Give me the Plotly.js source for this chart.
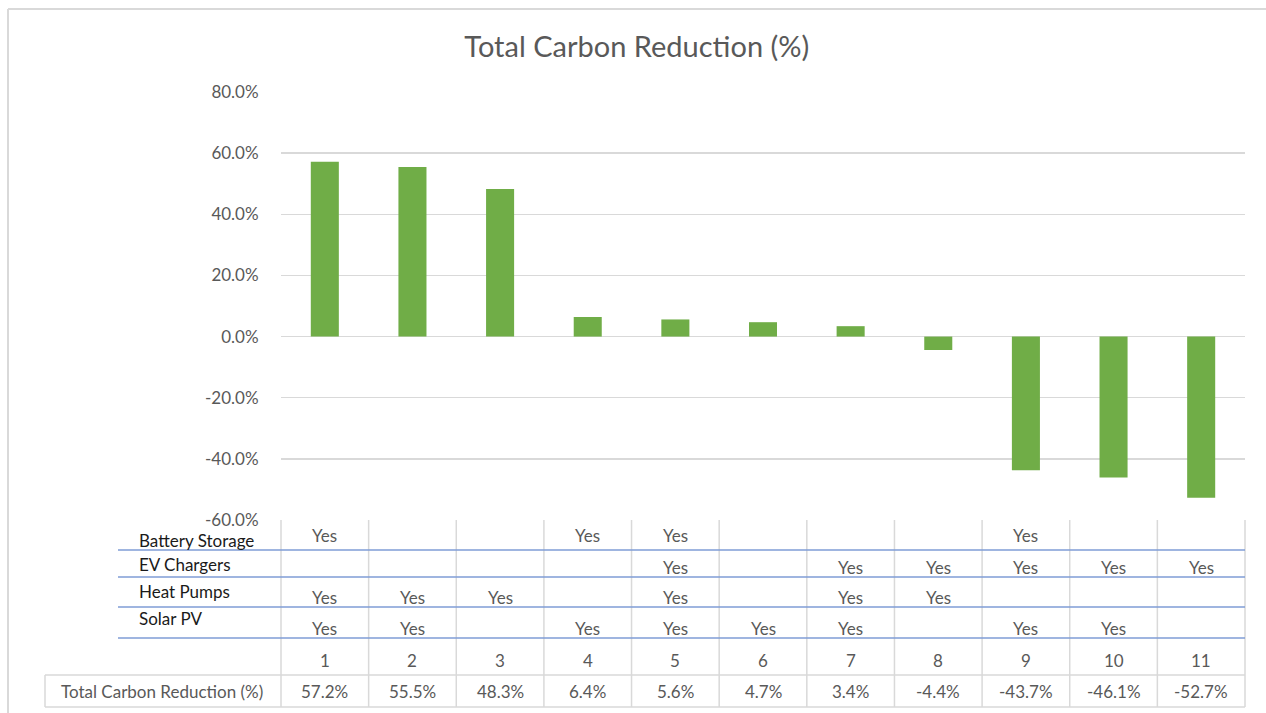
<!DOCTYPE html>
<html>
<head>
<meta charset="utf-8">
<script src="https://cdn.plot.ly/plotly-3.0.1.min.js"></script>
<style>
  html, body { margin: 0; padding: 0; background: #ffffff; }
  #chart { width: 1266px; height: 713px; }
</style>
</head>
<body>
<div id="chart"></div>
<script>
// Scenario numbers and total carbon reduction per scenario
const scenarios = ['1', '2', '3', '4', '5', '6', '7', '8', '9', '10', '11'];
const reduction = [0.572, 0.555, 0.483, 0.064, 0.056, 0.047, 0.034, -0.044, -0.437, -0.461, -0.527];

// Technologies included in each scenario
const techNames = ['Battery Storage', 'EV Chargers', 'Heat Pumps', 'Solar PV'];
const batteryStorage = ['Yes', '', '', 'Yes', 'Yes', '', '', '', 'Yes', '', ''];
const evChargers     = ['', '', '', '', 'Yes', '', 'Yes', 'Yes', 'Yes', 'Yes', 'Yes'];
const heatPumps      = ['Yes', 'Yes', 'Yes', '', 'Yes', '', 'Yes', 'Yes', '', '', ''];
const solarPV        = ['Yes', 'Yes', '', 'Yes', 'Yes', 'Yes', 'Yes', '', 'Yes', 'Yes', ''];
const seriesLabel = 'Total Carbon Reduction (%)';

// Value axis ticks
const yTicks = [-0.6, -0.4, -0.2, 0, 0.2, 0.4, 0.6, 0.8];
const pct = v => (v * 100).toFixed(1) + '%';

// ---- geometry of the data table beneath the plot (pixels) ----
const W = 1266, H = 713;
const plotL = 281, plotR = 1245, plotT = 92, plotB = 520;
const pw = plotR - plotL, ph = plotB - plotT;
const px = v => (v - plotL) / pw;      // pixel x -> paper x
const py = v => (plotB - v) / ph;      // pixel y -> paper y

const gridGrey = '#d9d9d9';
const tableBlue = '#7f9dd6';
const textGrey = '#595959';
const FONT = 'Lato, "Open Sans", sans-serif';
const FS = 17;

const shapes = [];
const annotations = [];

function hline(x0, x1, y, color, w) {
  shapes.push({type: 'line', xref: 'paper', yref: 'paper',
    x0: px(x0), x1: px(x1), y0: py(y), y1: py(y), line: {color: color, width: w}});
}
function vline(x, y0, y1, color, w) {
  shapes.push({type: 'line', xref: 'paper', yref: 'paper',
    x0: px(x), x1: px(x), y0: py(y0), y1: py(y1), line: {color: color, width: w}});
}

// outer chart frame (top and left edges)
hline(8, W + 5, 9, gridGrey, 2);
vline(8, 9, H + 5, gridGrey, 2);

// table grid
const colW = pw / scenarios.length;
for (let k = 0; k <= scenarios.length; k++) {
  vline(plotL + k * colW, plotB, 707, gridGrey, 1.5);
}
vline(45, 675, 707, gridGrey, 1.5);
hline(45, plotR, 675, gridGrey, 1.5);
hline(45, plotR, 707, gridGrey, 1.5);

// technology row separators
[550, 577, 607, 638].forEach(y => hline(118, plotR, y, tableBlue, 1.3));

// row labels
const rowLabelY = [540, 564, 591, 618];
techNames.forEach((name, i) => {
  annotations.push({xref: 'paper', yref: 'paper', x: px(137), y: py(rowLabelY[i]),
    xanchor: 'left', yanchor: 'middle', showarrow: false, text: name,
    font: {family: FONT, size: FS, color: '#1a1a1a'}});
});

// "Yes" cells (x given as category index)
const techRows = [batteryStorage, evChargers, heatPumps, solarPV];
const yesY = [535, 567, 597, 628];
techRows.forEach((row, i) => {
  row.forEach((v, j) => {
    if (!v) return;
    annotations.push({xref: 'x', yref: 'paper', x: j, y: py(yesY[i]),
      xanchor: 'center', yanchor: 'middle', showarrow: false, text: v,
      font: {family: FONT, size: FS, color: textGrey}});
  });
});

// scenario numbers and values row
scenarios.forEach((s, j) => {
  annotations.push({xref: 'x', yref: 'paper', x: j, y: py(660),
    xanchor: 'center', yanchor: 'middle', showarrow: false, text: s,
    font: {family: FONT, size: FS, color: textGrey}});
  annotations.push({xref: 'x', yref: 'paper', x: j, y: py(691),
    xanchor: 'center', yanchor: 'middle', showarrow: false,
    text: pct(reduction[j]),
    font: {family: FONT, size: FS, color: textGrey}});
});
annotations.push({xref: 'paper', yref: 'paper', x: px(162), y: py(691),
  xanchor: 'center', yanchor: 'middle', showarrow: false, text: seriesLabel,
  font: {family: FONT, size: FS, color: textGrey}});

const data = [{
  type: 'bar',
  x: scenarios,
  y: reduction,
  marker: {color: '#70ad47', line: {width: 0}},
  hoverinfo: 'skip'
}];

const layout = {
  width: W, height: H,
  margin: {l: plotL, r: W - plotR, t: plotT, b: H - plotB, pad: 0},
  paper_bgcolor: '#ffffff',
  plot_bgcolor: '#ffffff',
  font: {family: FONT, color: textGrey},
  title: {
    text: 'Total Carbon Reduction (%)',
    xref: 'container', x: 0.503,
    yref: 'container', y: 1 - 47 / H, yanchor: 'middle',
    font: {family: FONT, size: 29, color: textGrey}
  },
  bargap: 0.68,
  showlegend: false,
  xaxis: {
    type: 'category',
    range: [-0.5, scenarios.length - 0.5],
    autorange: false,
    showticklabels: false,
    showgrid: false,
    zeroline: false,
    showline: false,
    ticks: ''
  },
  yaxis: {
    range: [-0.6, 0.8],
    autorange: false,
    tickmode: 'array',
    tickvals: yTicks,
    ticktext: yTicks.map(pct),
    showgrid: true,
    gridcolor: gridGrey,
    gridwidth: 1.5,
    zeroline: true,
    zerolinecolor: gridGrey,
    zerolinewidth: 1.5,
    showline: false,
    ticks: 'outside',
    ticklen: 18,
    tickcolor: 'rgba(0,0,0,0)',
    tickfont: {family: FONT, size: FS, color: textGrey}
  },
  shapes: shapes,
  annotations: annotations
};

Plotly.newPlot('chart', data, layout, {displayModeBar: false, staticPlot: true});
</script>
</body>
</html>
